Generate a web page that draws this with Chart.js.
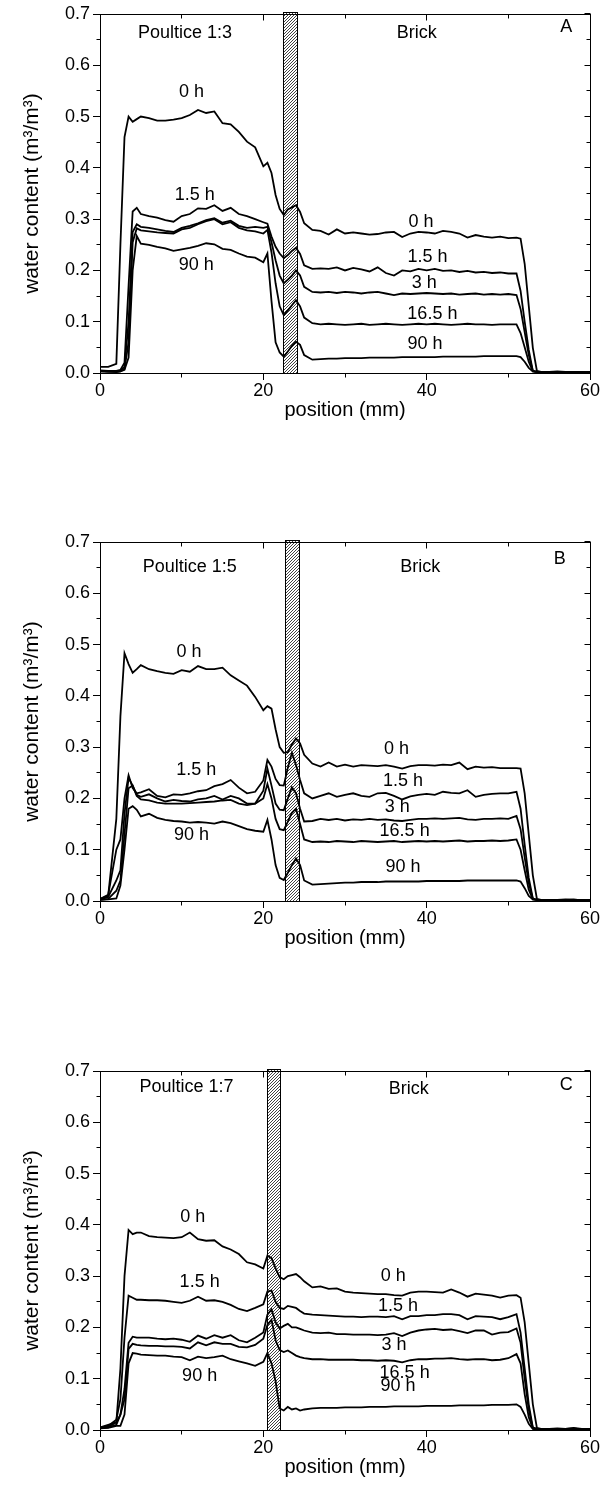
<!DOCTYPE html>
<html lang="en">
<head>
<meta charset="UTF-8">
<title>Water content profiles</title>
<script src="https://cdn.jsdelivr.net/npm/chart.js@4.4.1/dist/chart.umd.min.js"></script>
<style>
    body { margin: 0; background: #fff; }
    .panel { position: absolute; left: 0; }
</style>
</head>
<body>
<canvas id="chartA" class="panel" width="604" height="425" style="top:0px"></canvas>
<canvas id="chartB" class="panel" width="604" height="425" style="top:528px"></canvas>
<canvas id="chartC" class="panel" width="604" height="425" style="top:1057px"></canvas>
<script>
// positions along the sample (mm)
const positions = [
    0, 1, 2, 2.5, 3, 3.5, 4, 4.5, 5,
    6, 7, 8, 9, 10, 11, 12, 13, 14, 15, 16, 17, 18, 19, 20,
    20.5, 21, 21.5, 22, 22.5, 23, 23.5, 24, 24.5, 25,
    26, 27, 28, 29, 30, 31, 32, 33, 34, 35, 36, 37, 38,
    39, 40, 41, 42, 43, 44, 45, 46, 47, 48, 49, 50, 51,
    51.5, 52, 52.5, 53, 53.5,
    54, 55, 56, 57, 58, 59, 60
];

const timeLabels = ['0 h', '1.5 h', '3 h', '16.5 h', '90 h'];

// Poultice 1:3 (A)
const a0h = [
    0.012, 0.012, 0.018, 0.25, 0.46, 0.5, 0.49, 0.495, 0.5,
    0.497, 0.492, 0.492, 0.494, 0.497, 0.503, 0.513, 0.507, 0.51, 0.487, 0.485, 0.47, 0.451, 0.44, 0.403,
    0.41, 0.39, 0.347, 0.32, 0.308, 0.319, 0.323, 0.327, 0.314, 0.292,
    0.279, 0.277, 0.27, 0.28, 0.272, 0.274, 0.272, 0.27, 0.271, 0.274, 0.275, 0.265, 0.272,
    0.275, 0.274, 0.272, 0.277, 0.275, 0.272, 0.264, 0.269, 0.266, 0.264, 0.266, 0.263, 0.264,
    0.262, 0.213, 0.131, 0.049, 0.004,
    0.002, 0.002, 0.003, 0.002, 0.002, 0.001, 0.002
];
const a15h = [
    0.005, 0.004, 0.004, 0.006, 0.02, 0.17, 0.315, 0.322, 0.31,
    0.306, 0.303, 0.298, 0.295, 0.306, 0.31, 0.321, 0.32, 0.327, 0.316, 0.322, 0.31, 0.306, 0.3, 0.294,
    0.291, 0.266, 0.246, 0.233, 0.224, 0.23, 0.238, 0.244, 0.232, 0.21,
    0.203, 0.204, 0.203, 0.206, 0.2, 0.205, 0.202, 0.198, 0.206, 0.195, 0.19, 0.2, 0.198,
    0.203, 0.2, 0.203, 0.199, 0.2, 0.197, 0.199, 0.196, 0.197, 0.195, 0.196, 0.194, 0.194,
    0.16, 0.1, 0.045, 0.004, 0.002,
    0.001, 0.002, 0.002, 0.001, 0.001, 0.002, 0.001
];
const a3h = [
    0.004, 0.003, 0.003, 0.004, 0.012, 0.1, 0.275, 0.29, 0.285,
    0.283, 0.28, 0.277, 0.275, 0.283, 0.287, 0.292, 0.298, 0.302, 0.293, 0.297, 0.287, 0.283, 0.285, 0.283,
    0.285, 0.255, 0.22, 0.19, 0.175, 0.182, 0.19, 0.2, 0.19, 0.168,
    0.158, 0.157, 0.158, 0.156, 0.158, 0.157, 0.155, 0.157, 0.158, 0.155, 0.152, 0.155, 0.154,
    0.155, 0.156, 0.155, 0.154, 0.155, 0.153, 0.154, 0.155, 0.153, 0.154, 0.153, 0.154, 0.152,
    0.125, 0.08, 0.035, 0.004, 0.002,
    0.001, 0.001, 0.002, 0.001, 0.002, 0.001, 0.001
];
const a165h = [
    0.003, 0.003, 0.002, 0.003, 0.008, 0.06, 0.255, 0.282, 0.278,
    0.276, 0.274, 0.273, 0.272, 0.28, 0.283, 0.29, 0.296, 0.3, 0.29, 0.294, 0.283, 0.278, 0.276, 0.272,
    0.279, 0.235, 0.175, 0.13, 0.113, 0.122, 0.132, 0.142, 0.13, 0.108,
    0.097, 0.095, 0.096, 0.095, 0.094, 0.095, 0.096, 0.094, 0.095, 0.096, 0.095, 0.094, 0.095,
    0.096, 0.095, 0.096, 0.095, 0.094, 0.095, 0.096, 0.095, 0.095, 0.094, 0.095, 0.095, 0.095,
    0.078, 0.05, 0.022, 0.003, 0.002,
    0.001, 0.002, 0.001, 0.001, 0.002, 0.001, 0.001
];
const a90h = [
    0.003, 0.002, 0.002, 0.003, 0.006, 0.03, 0.2, 0.267, 0.252,
    0.25, 0.246, 0.243, 0.238, 0.241, 0.244, 0.248, 0.253, 0.251, 0.242, 0.24, 0.233, 0.227, 0.225, 0.216,
    0.233, 0.14, 0.06, 0.04, 0.032, 0.042, 0.053, 0.061, 0.055, 0.035,
    0.026, 0.027, 0.028, 0.028, 0.029, 0.029, 0.029, 0.03, 0.03, 0.03, 0.03, 0.031, 0.031,
    0.031, 0.031, 0.031, 0.032, 0.032, 0.032, 0.032, 0.032, 0.033, 0.033, 0.033, 0.033, 0.033,
    0.031, 0.022, 0.01, 0.003, 0.002,
    0.001, 0.001, 0.002, 0.001, 0.001, 0.001, 0.001
];

// Poultice 1:5 (B)
const b0h = [
    0.004, 0.01, 0.16, 0.36, 0.483, 0.462, 0.445, 0.452, 0.46,
    0.452, 0.448, 0.445, 0.443, 0.45, 0.447, 0.458, 0.452, 0.452, 0.455, 0.44, 0.43, 0.42, 0.398, 0.372,
    0.38, 0.375, 0.335, 0.3, 0.289, 0.29, 0.305, 0.317, 0.307, 0.285,
    0.268, 0.262, 0.27, 0.262, 0.266, 0.262, 0.265, 0.264, 0.263, 0.265, 0.262, 0.258, 0.263,
    0.265, 0.265, 0.264, 0.266, 0.265, 0.27, 0.257, 0.262, 0.26, 0.261, 0.259, 0.259, 0.259,
    0.258, 0.21, 0.13, 0.05, 0.004,
    0.002, 0.001, 0.002, 0.003, 0.002, 0.001, 0.002
];
const b15h = [
    0.004, 0.012, 0.1, 0.12, 0.2, 0.245, 0.22, 0.21, 0.212,
    0.218, 0.205, 0.202, 0.208, 0.207, 0.21, 0.214, 0.216, 0.224, 0.228, 0.236, 0.221, 0.21, 0.213, 0.235,
    0.275, 0.262, 0.238, 0.226, 0.225, 0.26, 0.289, 0.265, 0.236, 0.21,
    0.2, 0.205, 0.21, 0.203, 0.207, 0.21, 0.205, 0.203, 0.21, 0.211, 0.205, 0.198, 0.204,
    0.207, 0.209, 0.207, 0.213, 0.211, 0.21, 0.216, 0.203, 0.207, 0.209, 0.21, 0.21, 0.213,
    0.18, 0.11, 0.045, 0.005, 0.002,
    0.001, 0.002, 0.001, 0.002, 0.003, 0.001, 0.001
];
const b3h = [
    0.003, 0.008, 0.04, 0.06, 0.17, 0.24, 0.225, 0.207, 0.203,
    0.208, 0.2, 0.194, 0.197, 0.195, 0.194, 0.198, 0.2, 0.205, 0.198, 0.205, 0.2, 0.19, 0.19, 0.215,
    0.258, 0.225, 0.19, 0.178, 0.177, 0.2, 0.222, 0.21, 0.18, 0.155,
    0.156, 0.16, 0.158, 0.16, 0.157, 0.159, 0.158, 0.16, 0.158, 0.159, 0.157, 0.156, 0.158,
    0.16, 0.16, 0.161, 0.16, 0.161, 0.162, 0.159, 0.158, 0.16, 0.16, 0.161, 0.16, 0.166,
    0.14, 0.085, 0.035, 0.004, 0.002,
    0.001, 0.001, 0.002, 0.001, 0.002, 0.002, 0.001
];
const b165h = [
    0.002, 0.004, 0.02, 0.04, 0.13, 0.22, 0.225, 0.205, 0.198,
    0.196, 0.192, 0.19, 0.19, 0.19, 0.191, 0.192, 0.193, 0.194, 0.196, 0.197, 0.19, 0.187, 0.19, 0.2,
    0.228, 0.2, 0.16, 0.14, 0.138, 0.155, 0.172, 0.18, 0.15, 0.12,
    0.115, 0.116, 0.115, 0.117, 0.116, 0.115, 0.117, 0.116, 0.115, 0.116, 0.117, 0.115, 0.116,
    0.117, 0.116, 0.117, 0.116, 0.117, 0.118, 0.116, 0.117, 0.117, 0.118, 0.117, 0.118, 0.12,
    0.1, 0.06, 0.022, 0.003, 0.002,
    0.001, 0.002, 0.001, 0.001, 0.002, 0.001, 0.001
];
const b90h = [
    0.002, 0.003, 0.005, 0.03, 0.1, 0.18, 0.185, 0.178, 0.165,
    0.17, 0.162, 0.158, 0.156, 0.155, 0.153, 0.154, 0.153, 0.151, 0.155, 0.152, 0.146, 0.14, 0.137, 0.135,
    0.158, 0.12, 0.07, 0.045, 0.041, 0.055, 0.07, 0.083, 0.07, 0.04,
    0.032, 0.033, 0.034, 0.035, 0.036, 0.036, 0.037, 0.037, 0.037, 0.038, 0.038, 0.038, 0.038,
    0.038, 0.039, 0.039, 0.039, 0.039, 0.039, 0.04, 0.04, 0.04, 0.04, 0.04, 0.04, 0.04,
    0.038, 0.025, 0.01, 0.003, 0.002,
    0.001, 0.001, 0.002, 0.001, 0.001, 0.002, 0.001
];

// Poultice 1:7 (C)
const c0h = [
    0.005, 0.01, 0.015, 0.12, 0.3, 0.39, 0.382, 0.385, 0.385,
    0.378, 0.376, 0.375, 0.374, 0.376, 0.385, 0.372, 0.369, 0.37, 0.358, 0.352, 0.343, 0.327, 0.323, 0.315,
    0.34, 0.335, 0.315, 0.298, 0.294, 0.3, 0.302, 0.304, 0.298, 0.29,
    0.278, 0.28, 0.275, 0.276, 0.27, 0.268, 0.267, 0.266, 0.265, 0.265, 0.263, 0.262, 0.268,
    0.27, 0.27, 0.269, 0.268, 0.274, 0.268, 0.26, 0.266, 0.264, 0.262, 0.258, 0.262, 0.263,
    0.258, 0.21, 0.13, 0.05, 0.004,
    0.002, 0.002, 0.003, 0.002, 0.004, 0.002, 0.002
];
const c15h = [
    0.004, 0.008, 0.02, 0.06, 0.18, 0.262, 0.258, 0.254, 0.254,
    0.253, 0.253, 0.252, 0.25, 0.248, 0.252, 0.26, 0.252, 0.253, 0.25, 0.244, 0.236, 0.232, 0.238, 0.245,
    0.27, 0.272, 0.25, 0.238, 0.236, 0.242, 0.24, 0.238, 0.232, 0.227,
    0.225, 0.224, 0.223, 0.222, 0.221, 0.221, 0.22, 0.221, 0.221, 0.22, 0.222, 0.216, 0.222,
    0.222, 0.224, 0.224, 0.226, 0.226, 0.224, 0.216, 0.222, 0.221, 0.22, 0.216, 0.22, 0.226,
    0.19, 0.12, 0.05, 0.005, 0.002,
    0.002, 0.001, 0.002, 0.002, 0.003, 0.001, 0.002
];
const c3h = [
    0.004, 0.006, 0.015, 0.03, 0.08, 0.17, 0.182, 0.18, 0.18,
    0.18, 0.178, 0.177, 0.178, 0.176, 0.172, 0.184, 0.178, 0.185, 0.18, 0.185, 0.175, 0.171, 0.18, 0.19,
    0.225, 0.235, 0.21, 0.198, 0.203, 0.207, 0.2, 0.2, 0.197, 0.194,
    0.19, 0.189, 0.19, 0.187, 0.187, 0.186, 0.186, 0.186, 0.185, 0.186, 0.189, 0.183, 0.19,
    0.194, 0.196, 0.197, 0.195, 0.196, 0.193, 0.189, 0.194, 0.194, 0.186, 0.19, 0.191, 0.198,
    0.17, 0.1, 0.04, 0.004, 0.002,
    0.002, 0.001, 0.002, 0.001, 0.002, 0.002, 0.001
];
const c165h = [
    0.003, 0.005, 0.01, 0.03, 0.06, 0.158, 0.168, 0.166, 0.165,
    0.164, 0.164, 0.163, 0.163, 0.162, 0.159, 0.171, 0.165, 0.171, 0.168, 0.168, 0.162, 0.161, 0.166, 0.178,
    0.205, 0.215, 0.175, 0.156, 0.152, 0.155, 0.15, 0.145, 0.142, 0.14,
    0.138, 0.138, 0.137, 0.137, 0.137, 0.137, 0.136, 0.136, 0.135, 0.136, 0.135, 0.132, 0.136,
    0.138, 0.138, 0.139, 0.139, 0.14, 0.138, 0.137, 0.138, 0.138, 0.136, 0.137, 0.14, 0.148,
    0.13, 0.07, 0.025, 0.003, 0.002,
    0.001, 0.002, 0.001, 0.001, 0.002, 0.001, 0.001
];
const c90h = [
    0.003, 0.004, 0.008, 0.008, 0.03, 0.13, 0.15, 0.149, 0.147,
    0.146, 0.145, 0.145, 0.143, 0.142, 0.136, 0.143, 0.14, 0.142, 0.145, 0.138, 0.134, 0.13, 0.125, 0.133,
    0.15, 0.13, 0.095, 0.042, 0.038, 0.045, 0.04, 0.042, 0.038, 0.04,
    0.042, 0.043, 0.043, 0.043, 0.044, 0.044, 0.044, 0.045, 0.045, 0.045, 0.046, 0.046, 0.046,
    0.046, 0.047, 0.047, 0.047, 0.047, 0.048, 0.048, 0.048, 0.048, 0.049, 0.049, 0.049, 0.05,
    0.045, 0.03, 0.012, 0.002, 0.001,
    0.001, 0.001, 0.002, 0.001, 0.001, 0.001, 0.001
];

const FONT = '"Liberation Sans", Arial, sans-serif';
Chart.defaults.font.family = FONT;
Chart.defaults.color = '#000';

document.addEventListener('DOMContentLoaded', () => {
    renderPanel('chartA', [a0h, a15h, a3h, a165h, a90h], {
        bar: [22.45, 24.15],
        notes: [
            ['Poultice 1:3', 10.4, 0.663], ['Brick', 38.8, 0.663], ['A', 57.1, 0.674],
            ['0 h', 11.2, 0.548], ['1.5 h', 11.6, 0.347], ['90 h', 11.8, 0.21],
            ['0 h', 39.3, 0.294], ['1.5 h', 40.1, 0.226], ['3 h', 39.7, 0.175],
            ['16.5 h', 40.7, 0.115], ['90 h', 39.8, 0.057]
        ]
    });
    renderPanel('chartB', [b0h, b15h, b3h, b165h, b90h], {
        bar: [22.7, 24.4],
        notes: [
            ['Poultice 1:5', 11.0, 0.652], ['Brick', 39.2, 0.652], ['B', 56.3, 0.666],
            ['0 h', 10.9, 0.486], ['1.5 h', 11.8, 0.255], ['90 h', 11.2, 0.129],
            ['0 h', 36.3, 0.296], ['1.5 h', 37.1, 0.233], ['3 h', 36.4, 0.184],
            ['16.5 h', 37.3, 0.137], ['90 h', 37.1, 0.067]
        ]
    });
    renderPanel('chartC', [c0h, c15h, c3h, c165h, c90h], {
        bar: [20.5, 22.1],
        notes: [
            ['Poultice 1:7', 10.6, 0.668], ['Brick', 37.8, 0.665], ['C', 57.1, 0.672],
            ['0 h', 11.35, 0.415], ['1.5 h', 12.2, 0.288], ['90 h', 12.2, 0.106],
            ['0 h', 35.9, 0.301], ['1.5 h', 36.5, 0.242], ['3 h', 36.0, 0.166],
            ['16.5 h', 37.3, 0.112], ['90 h', 36.5, 0.086]
        ]
    });
});

//Hatch tile for the interface strip
function makeHatchTile() {
    const tile = document.createElement('canvas');
    tile.width = 3;
    tile.height = 3;
    const g = tile.getContext('2d');
    g.strokeStyle = '#111';
    g.lineWidth = 0.8;
    g.beginPath();
    g.moveTo(0, 3); g.lineTo(3, 0);
    g.moveTo(-1, 1); g.lineTo(1, -1);
    g.moveTo(2, 4); g.lineTo(4, 2);
    g.stroke();
    return tile;
}
const hatchTile = makeHatchTile();

function crisp(p) {
    return Math.round(p - 0.5) + 0.5;
}

//Frame, mirrored ticks, strip and text notes
const panelDecor = {
    id: 'panelDecor',
    beforeDatasetsDraw(chart, args, opts) {
        const { ctx, scales: { x, y } } = chart;
        const left = crisp(x.getPixelForValue(opts.bar[0]));
        const right = crisp(x.getPixelForValue(opts.bar[1]));
        const top = crisp(y.getPixelForValue(0.703));
        const bottom = crisp(y.getPixelForValue(0));
        ctx.save();
        ctx.fillStyle = '#fff';
        ctx.fillRect(left, top, right - left, bottom - top);
        ctx.fillStyle = ctx.createPattern(hatchTile, 'repeat');
        ctx.fillRect(left, top, right - left, bottom - top);
        ctx.strokeStyle = '#000';
        ctx.lineWidth = 1;
        ctx.strokeRect(left, top, right - left, bottom - top);
        ctx.restore();
    },
    afterDraw(chart, args, opts) {
        const { ctx, chartArea: a, scales: { x, y } } = chart;
        const L = crisp(a.left), R = crisp(a.right), T = crisp(a.top), B = crisp(a.bottom);
        ctx.save();
        ctx.strokeStyle = '#000';
        ctx.lineWidth = 1;
        ctx.strokeRect(L, T, R - L, B - T);
        ctx.beginPath();
        for (let i = 0; i <= 14; i++) {
            const py = crisp(y.getPixelForValue(i * 0.05));
            const major = i % 2 === 0;
            ctx.moveTo(R, py);
            ctx.lineTo(R - (major ? 6 : 4), py);
            if (!major) {
                ctx.moveTo(L, py);
                ctx.lineTo(L - 4, py);
            }
        }
        for (let mm = 0; mm <= 60; mm += 10) {
            const px = crisp(x.getPixelForValue(mm));
            const major = mm % 20 === 0;
            ctx.moveTo(px, T);
            ctx.lineTo(px, T + (major ? 6 : 4));
            if (!major) {
                ctx.moveTo(px, B);
                ctx.lineTo(px, B + 4);
            }
        }
        ctx.stroke();

        ctx.fillStyle = '#000';
        ctx.font = '18px ' + FONT;
        ctx.textAlign = 'center';
        ctx.textBaseline = 'middle';
        opts.notes.forEach(([text, nx, ny]) => {
            ctx.fillText(text, x.getPixelForValue(nx), y.getPixelForValue(ny));
        });
        ctx.restore();
    }
};

function renderPanel(canvasId, series, decor) {
    const ctx = document.getElementById(canvasId).getContext('2d');
    return new Chart(ctx, {
        type: 'line',
        data: {
            datasets: series.map((values, i) => {
                if (values.length !== positions.length) {
                    console.error(canvasId + ' series ' + i + ' has ' + values.length + ' values');
                }
                return {
                    label: timeLabels[i],
                    data: positions.map((p, j) => ({ x: p, y: values[j] })),
                    borderColor: '#000',
                    borderWidth: 1.8,
                    pointRadius: 0,
                    tension: 0,
                    fill: false
                };
            })
        },
        options: {
            responsive: false,
            animation: false,
            layout: { padding: { top: 14, right: 14, left: 0, bottom: 0 } },
            plugins: {
                legend: { display: false },
                tooltip: { enabled: false },
                panelDecor: decor
            },
            scales: {
                x: {
                    type: 'linear',
                    min: 0,
                    max: 60,
                    ticks: { stepSize: 20, font: { size: 18 }, color: '#000', padding: 0, maxRotation: 0 },
                    grid: { drawOnChartArea: false, tickLength: 7, tickColor: '#000', lineWidth: 1 },
                    border: { color: '#000', width: 1 },
                    title: { display: true, text: 'position (mm)', font: { size: 20 }, color: '#000', padding: { top: 0, bottom: 3 } },
                    afterFit: (scale) => { scale.height = 52; }
                },
                y: {
                    min: 0,
                    max: 0.7,
                    ticks: { stepSize: 0.1, font: { size: 18 }, color: '#000', padding: 3, callback: (v) => v.toFixed(1) },
                    grid: { drawOnChartArea: false, tickLength: 7, tickColor: '#000', lineWidth: 1 },
                    border: { color: '#000', width: 1 },
                    title: { display: true, text: 'water content (m³/m³)', font: { size: 21 }, color: '#000', padding: { top: 20, bottom: 0 } },
                    afterFit: (scale) => { scale.width = 100; }
                }
            }
        },
        plugins: [panelDecor]
    });
}
</script>
</body>
</html>
